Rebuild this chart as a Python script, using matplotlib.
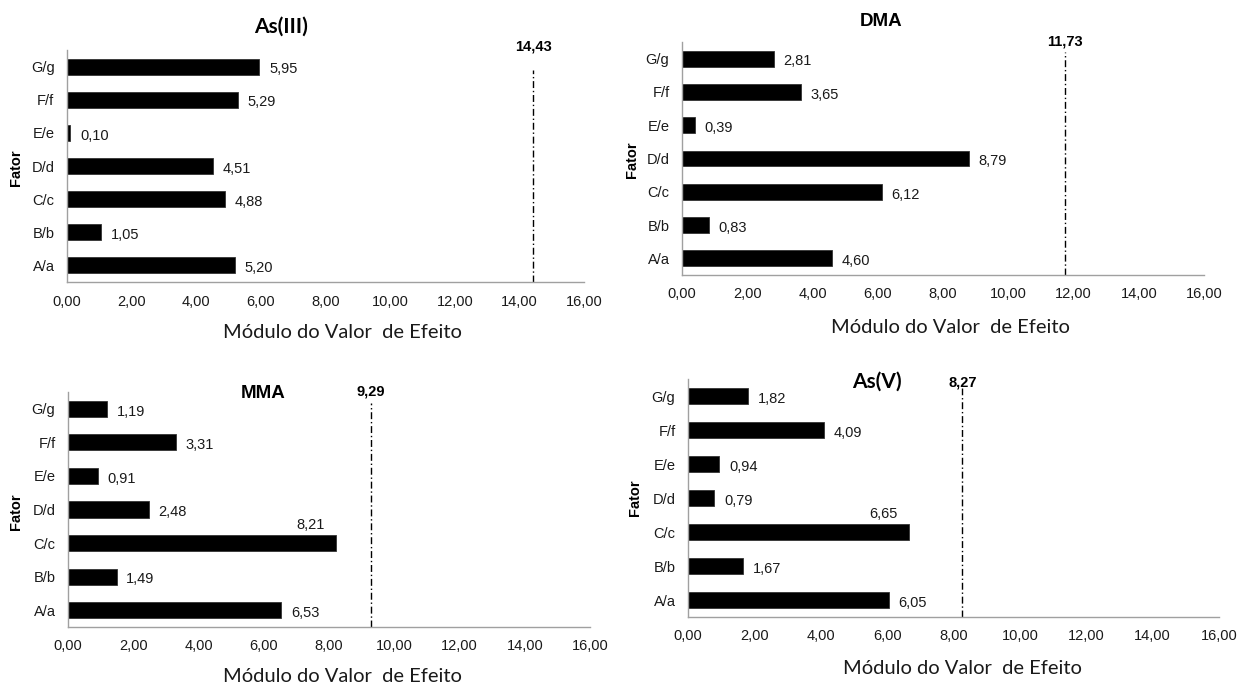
import matplotlib
matplotlib.use("Agg")
import matplotlib.pyplot as plt

# Factor labels (bottom to top on the y axis)
factors = ["A/a", "B/b", "C/c", "D/d", "E/e", "F/f", "G/g"]

# Absolute effect values per species
as3_values = [5.20, 1.05, 4.88, 4.51, 0.10, 5.29, 5.95]
dma_values = [4.60, 0.83, 6.12, 8.79, 0.39, 3.65, 2.81]
mma_values = [6.53, 1.49, 8.21, 2.48, 0.91, 3.31, 1.19]
as5_values = [6.05, 1.67, 6.65, 0.79, 0.94, 4.09, 1.82]

# Critical effect values (reference lines)
as3_limit = 14.43
dma_limit = 11.73
mma_limit = 9.29
as5_limit = 8.27

titles = ["As(III)", "DMA", "MMA", "As(V)"]
xticks = [0, 2, 4, 6, 8, 10, 12, 14, 16]
xlabel = "Módulo do Valor  de Efeito"
ylabel = "Fator"

W, H = 1239, 686
fig = plt.figure(figsize=(W / 100, H / 100), dpi=100)


def fx(x):
    return x / W


def fy(y):
    return 1 - y / H


# panel layout in pixels: left, right, top, bottom
panels = [
    dict(vals=as3_values, lim=as3_limit, box=(67, 584, 50, 282),
         title_xy=(281, 27), title_font="Lato", title_size=15,
         fator_xy=(16, 168), xlab_xy=(342, 333),
         line_top=0.914, lab_y=1.017, above=[]),
    dict(vals=dma_values, lim=dma_limit, box=(682, 1204, 42, 275),
         title_xy=(881, 21), title_font="Liberation Sans", title_size=13.5,
         fator_xy=(632, 160), xlab_xy=(950, 328),
         line_top=0.957, lab_y=1.0, above=[]),
    dict(vals=mma_values, lim=mma_limit, box=(68, 590, 392, 627),
         title_xy=(263, 393), title_font="Liberation Sans", title_size=13.5,
         fator_xy=(16, 512), xlab_xy=(342, 677),
         line_top=0.953, lab_y=1.0, above=["C/c"]),
    dict(vals=as5_values, lim=as5_limit, box=(688, 1219, 379, 617),
         title_xy=(877, 382), title_font="Lato", title_size=15,
         fator_xy=(635, 498), xlab_xy=(962, 668),
         line_top=0.962, lab_y=0.987, above=["C/c"]),
]

arial = "Liberation Sans"
fs = 10.5

for title, p in zip(titles, panels):
    l, r, t, b = p["box"]
    ax = fig.add_axes([fx(l), fy(b), (r - l) / W, (b - t) / H])
    ypos = range(len(factors))
    ax.barh(ypos, p["vals"], height=0.48, color="black", edgecolor="#333333", linewidth=0.6)
    ax.set_xlim(0, 16)
    ax.set_ylim(-0.5, len(factors) - 0.5)
    ax.set_yticks(list(ypos))
    ax.set_yticklabels(factors, fontfamily=arial, fontsize=fs, color="#1a1a1a")
    ax.set_xticks(xticks)
    ax.set_xticklabels([f"{v:.2f}".replace(".", ",") for v in xticks],
                       fontfamily=arial, fontsize=fs, color="#1a1a1a")
    ax.tick_params(axis="both", length=0)
    ax.tick_params(axis="x", pad=9)
    ax.tick_params(axis="y", pad=9)
    for s in ("top", "right"):
        ax.spines[s].set_visible(False)
    for s in ("left", "bottom"):
        ax.spines[s].set_color("#a0a0a0")
        ax.spines[s].set_linewidth(1.0)

    # value labels
    for i, (f, v) in enumerate(zip(factors, p["vals"])):
        txt = f"{v:.2f}".replace(".", ",")
        if f in p["above"]:
            ax.annotate(txt, (v, i), xytext=(-8, 8), textcoords="offset points",
                        ha="right", va="bottom", fontfamily=arial, fontsize=fs, color="#1a1a1a")
        else:
            ax.annotate(txt, (v, i), xytext=(7, -2), textcoords="offset points",
                        ha="left", va="center", fontfamily=arial, fontsize=fs, color="#1a1a1a")

    # critical value line
    ax.plot([p["lim"], p["lim"]], [0, p["line_top"]], transform=ax.get_xaxis_transform(),
            color="black", linewidth=1.0, linestyle=(0, (5, 2, 1, 2)), clip_on=False)
    ax.text(p["lim"], p["lab_y"], f"{p['lim']:.2f}".replace(".", ","),
            transform=ax.get_xaxis_transform(), ha="center", va="center",
            fontfamily=arial, fontweight="bold", fontsize=10.5, color="black")

    fig.text(fx(p["title_xy"][0]), fy(p["title_xy"][1]), title, ha="center", va="center",
             fontfamily=p["title_font"], fontweight="bold", fontsize=p["title_size"], color="black")
    fig.text(fx(p["fator_xy"][0]), fy(p["fator_xy"][1]), ylabel, ha="center", va="center",
             rotation=90, fontfamily=arial, fontweight="bold", fontsize=10.5, color="black")
    fig.text(fx(p["xlab_xy"][0]), fy(p["xlab_xy"][1]), xlabel, ha="center", va="center",
             fontfamily="Lato", fontsize=14.5, color="#1a1a1a")

fig.savefig("out.png", dpi=100, facecolor="white")
